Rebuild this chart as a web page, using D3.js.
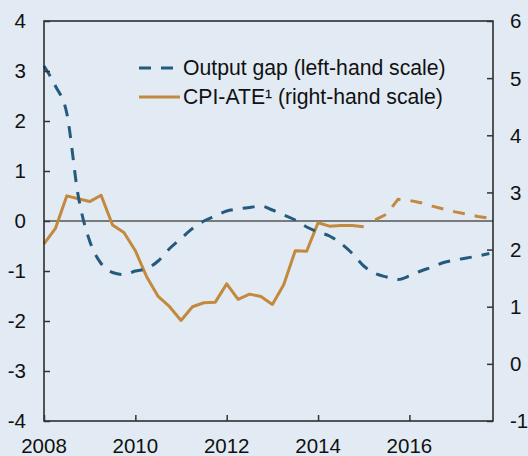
<!DOCTYPE html>
<html>
<head>
<meta charset="utf-8">
<script src="https://cdn.jsdelivr.net/npm/d3@7"></script>
<style>
  body { margin: 0; background: #e2ebf3; }
  svg { display: block; font-family: "Liberation Sans", Arial, sans-serif; }
</style>
</head>
<body>
<svg width="528" height="456"></svg>
<script>
// quarterly dates, 2008Q1 .. 2017Q4
var quarters = [
  "2008Q1","2008Q2","2008Q3","2008Q4","2009Q1","2009Q2","2009Q3","2009Q4",
  "2010Q1","2010Q2","2010Q3","2010Q4","2011Q1","2011Q2","2011Q3","2011Q4",
  "2012Q1","2012Q2","2012Q3","2012Q4","2013Q1","2013Q2","2013Q3","2013Q4",
  "2014Q1","2014Q2","2014Q3","2014Q4","2015Q1","2015Q2","2015Q3","2015Q4",
  "2016Q1","2016Q2","2016Q3","2016Q4","2017Q1","2017Q2","2017Q3","2017Q4"
];

// output gap, left-hand scale
var outputGap = [
  3.1, 2.7, 2.15, 0.5, -0.4, -0.85, -1.03, -1.07,
  -1.0, -0.95, -0.8, -0.55, -0.35, -0.15, 0.0, 0.1,
  0.2, 0.24, 0.27, 0.3, 0.22, 0.12, 0.02, -0.12,
  -0.22, -0.3, -0.45, -0.65, -0.9, -1.05, -1.12, -1.17,
  -1.1, -1.0, -0.92, -0.83, -0.78, -0.74, -0.7, -0.65
];

// CPI-ATE, right-hand scale, 2008Q1 .. 2015Q1
var cpiActual = [
  2.1, 2.37, 2.94, 2.89, 2.84, 2.95, 2.43, 2.3,
  1.98, 1.52, 1.18, 1.0, 0.76, 1.0, 1.07, 1.08,
  1.4, 1.13, 1.22, 1.18, 1.04, 1.39, 1.98, 1.97,
  2.47, 2.41, 2.42, 2.42, 2.4
];

// CPI-ATE projection, 2015Q2 .. 2017Q4
var cpiForecast = [
  2.52, 2.62, 2.88, 2.86, 2.82, 2.76, 2.71, 2.66, 2.62, 2.58, 2.55
];

var leftTicks = [4, 3, 2, 1, 0, -1, -2, -3, -4];
var rightTicks = [6, 5, 4, 3, 2, 1, 0, -1];
var yearTicks = [2008, 2010, 2012, 2014, 2016];
var legendLabels = ["Output gap (left-hand scale)", "CPI-ATE\u00b9 (right-hand scale)"];

var blue = "#245a7d", orange = "#c3893f";

function qToYear(q) {
  return +q.slice(0, 4) + (+q.slice(5) - 1) / 4;
}

var svg = d3.select("svg");
var margin = {left: 44, right: 35, top: 21, bottom: 35};
var width = 528 - margin.left - margin.right,
    height = 456 - margin.top - margin.bottom;

var x = d3.scaleLinear().domain([2008, 2017.83]).range([margin.left, margin.left + width]);
var yL = d3.scaleLinear().domain([-4, 4]).range([margin.top + height, margin.top]);
var yR = d3.scaleLinear().domain([-1, 6]).range([margin.top + height, margin.top]);

var gapData = quarters.map(function (q, i) { return [qToYear(q), outputGap[i]]; });
var cpiData = cpiActual.map(function (v, i) { return [qToYear(quarters[i]), v]; });
var fcData = cpiForecast.map(function (v, i) { return [qToYear(quarters[cpiActual.length + i]), v]; });

// zero line
svg.append("line")
  .attr("x1", x.range()[0]).attr("x2", x.range()[1])
  .attr("y1", yL(0)).attr("y2", yL(0))
  .attr("stroke", "#555").attr("stroke-width", 1.5);

var lineL = d3.line().x(function (d) { return x(d[0]); }).y(function (d) { return yL(d[1]); });
var lineR = d3.line().x(function (d) { return x(d[0]); }).y(function (d) { return yR(d[1]); });

svg.append("path").datum(cpiData)
  .attr("d", lineR)
  .attr("fill", "none").attr("stroke", orange).attr("stroke-width", 3)
  .attr("stroke-linejoin", "round");

svg.append("path").datum(fcData)
  .attr("d", lineR)
  .attr("fill", "none").attr("stroke", orange).attr("stroke-width", 3)
  .attr("stroke-dasharray", "12,10");

svg.append("path").datum(gapData)
  .attr("d", lineL.curve(d3.curveMonotoneX))
  .attr("fill", "none").attr("stroke", blue).attr("stroke-width", 3)
  .attr("stroke-dasharray", "12,10");

// frame
svg.append("rect")
  .attr("x", margin.left).attr("y", margin.top)
  .attr("width", width).attr("height", height)
  .attr("fill", "none").attr("stroke", "#222").attr("stroke-width", 1.5);

// axes with inward ticks
var axL = svg.append("g").attr("transform", "translate(" + margin.left + ",0)")
  .call(d3.axisRight(yL).tickValues(leftTicks).tickSize(6).tickFormat(""));
var axR = svg.append("g").attr("transform", "translate(" + (margin.left + width) + ",0)")
  .call(d3.axisLeft(yR).tickValues(rightTicks).tickSize(6).tickFormat(""));
var axB = svg.append("g").attr("transform", "translate(0," + (margin.top + height) + ")")
  .call(d3.axisTop(x).tickValues(yearTicks).tickSize(6).tickFormat(""));
[axL, axR, axB].forEach(function (g) {
  g.select(".domain").remove();
  g.selectAll("line").attr("stroke", "#333").attr("stroke-width", 1.5);
});

// tick labels
svg.selectAll(".lt").data(leftTicks).enter().append("text")
  .attr("x", 26).attr("y", function (d) { return yL(d); })
  .attr("dy", "0.36em").attr("text-anchor", "end")
  .attr("font-size", 20.5).attr("fill", "#111")
  .text(function (d) { return d; });

svg.selectAll(".rt").data(rightTicks).enter().append("text")
  .attr("x", 510).attr("y", function (d) { return yR(d); })
  .attr("dy", "0.36em").attr("text-anchor", "start")
  .attr("font-size", 20.5).attr("fill", "#111")
  .text(function (d) { return d; });

svg.selectAll(".xt").data(yearTicks).enter().append("text")
  .attr("x", function (d) { return x(d); }).attr("y", 453)
  .attr("text-anchor", "middle")
  .attr("font-size", 20.5).attr("fill", "#111")
  .text(function (d) { return d; });

// legend
var leg = svg.append("g");
leg.append("line").attr("x1", 139).attr("x2", 180).attr("y1", 68).attr("y2", 68)
  .attr("stroke", blue).attr("stroke-width", 3).attr("stroke-dasharray", "12,10");
leg.append("line").attr("x1", 139).attr("x2", 180).attr("y1", 97).attr("y2", 97)
  .attr("stroke", orange).attr("stroke-width", 3);
leg.selectAll("text").data(legendLabels).enter().append("text")
  .attr("x", 183).attr("y", function (d, i) { return 75 + i * 29; })
  .attr("font-size", 21.2).attr("fill", "#111")
  .text(function (d) { return d; });
</script>
</body>
</html>
